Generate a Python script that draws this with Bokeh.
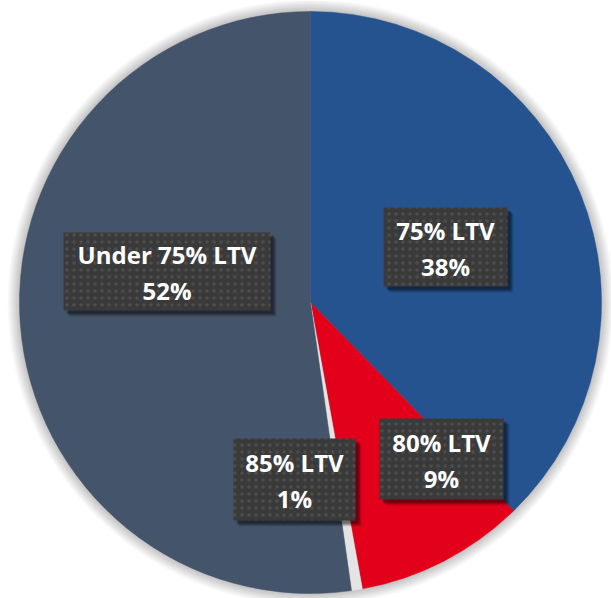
import math
from bokeh.plotting import figure
from bokeh.models import Range1d, ColumnDataSource
from bokeh.core.properties import value
from bokeh.embed import file_html
from bokeh.resources import INLINE

# ---- data ----
categories = ["75% LTV", "80% LTV", "85% LTV", "Under 75% LTV"]
shares = [37.7, 9.45, 0.6, 52.25]
colors = ["#24538f", "#e3001b", "#e4e4e4", "#44546a"]
pct_labels = [f"{round(v)}%" for v in shares]

# label box layout (image pixel coords: cx, cy, w, h)
box_cx = [445, 441, 294, 166.5]
box_cy = [246.5, 458.5, 479, 271]
box_w = [124, 124, 122, 207]
box_h = [79, 81, 82, 78]

W, H = 611, 598
CX, CY, R = 310, 302, 291

def fy(y):
    return H - y

p = figure(width=W, height=H, output_backend="svg", toolbar_location=None,
           x_range=Range1d(0, W), y_range=Range1d(0, H), min_border=0)
p.axis.visible = False
p.grid.visible = False
p.outline_line_color = None
p.background_fill_color = "white"
p.border_fill_color = "white"

# soft shadow halo
for k in range(1, 13):
    p.circle(x=[CX], y=[fy(CY)], radius=R + k, fill_color="#000000",
             fill_alpha=0.02, line_color=None)

total = sum(shares)
starts, ends = [], []
cum = 0.0
for v in shares:
    a0 = cum / total * 2 * math.pi
    cum += v
    a1 = cum / total * 2 * math.pi
    starts.append(math.pi / 2 - a0)
    ends.append(math.pi / 2 - a1)

src = ColumnDataSource(dict(start=starts, end=ends, color=colors, cat=categories))
p.wedge(x=CX, y=fy(CY), radius=R, start_angle="start", end_angle="end",
        direction="clock", fill_color="color", line_color="color", line_width=0.5,
        source=src)

# label boxes
ys = [fy(y) for y in box_cy]
for off, a in [(6, 0.10), (5, 0.15), (4, 0.2), (3, 0.2)]:
    p.rect(x=[x + off for x in box_cx], y=[y - off for y in ys], width=box_w,
           height=box_h, fill_color="black", fill_alpha=a, line_color=None)
p.rect(x=box_cx, y=ys, width=box_w, height=box_h, fill_color="#3a3a3a",
       line_color=None, hatch_pattern="dot", hatch_color="#6a6a6a",
       hatch_scale=7, hatch_weight=1, hatch_alpha=0.4)

p.text(x=box_cx, y=[fy(y - 17) for y in box_cy], text=categories,
       text_color="white", text_font=value("Open Sans"), text_font_style="bold",
       text_font_size="24px", text_align="center", text_baseline="middle")
p.text(x=box_cx, y=[fy(y + 19) for y in box_cy], text=pct_labels,
       text_color="white", text_font=value("Open Sans"), text_font_style="bold",
       text_font_size="24px", text_align="center", text_baseline="middle")

open("out.html", "w").write(file_html(p, INLINE))
